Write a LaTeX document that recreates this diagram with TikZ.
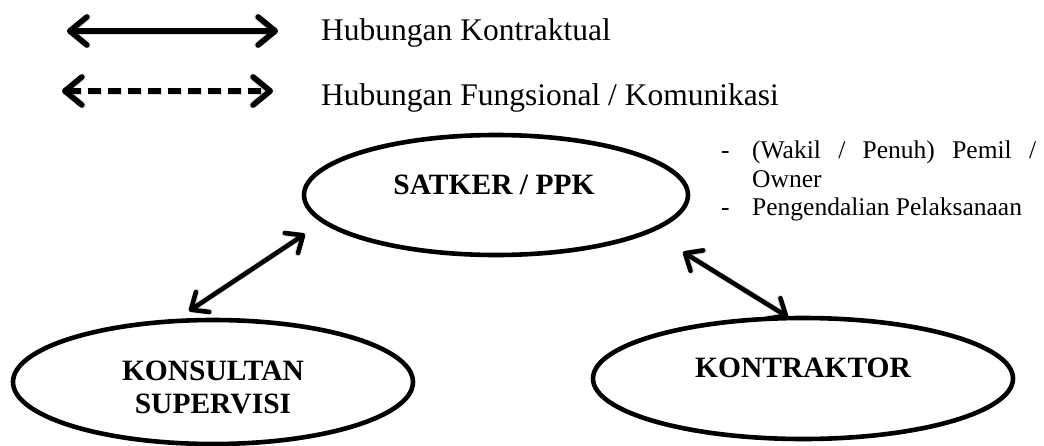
\documentclass[tikz,border=0pt]{standalone}
\usepackage{fontspec}
\setmainfont{Liberation Serif}
\usetikzlibrary{arrows.meta,shapes.geometric}
\begin{document}
\begin{tikzpicture}[x=1pt,y=-1pt,
  ell/.style={draw, ellipse, line width=4.6pt, inner sep=0pt},
  lbl/.style={font=\fontsize{29.5}{33}\selectfont\bfseries, inner sep=0pt, align=center},
  legtxt/.style={font=\fontsize{31.5}{36}\selectfont, inner sep=0pt, anchor=base west},
  note/.style={font=\fontsize{25.5}{29}\selectfont, inner sep=0pt, anchor=base west},
  conn/.style={line width=4.6pt, {Straight Barb[length=14pt,width=24pt,round]}-{Straight Barb[length=14pt,width=24pt,round]}},
  leg/.style={line width=5.6pt, {Straight Barb[length=17pt,width=28pt,round]}-{Straight Barb[length=17pt,width=28pt,round]}},
  shad/.style={draw=black, opacity=0.13, shift={(2pt,-3pt)}}]
\useasboundingbox (0,0) rectangle (1044,445);

% legend
\coordinate (l1a) at (67,31);
\coordinate (l1b) at (278,31);
\coordinate (l2a) at (62,91);
\coordinate (l2b) at (273,91);
\draw[leg, shad, line width=7pt] (l1a) -- (l1b);
\draw[leg, shad, line width=7pt, dash pattern=on 13pt off 7pt] (l2a) -- (l2b);
\draw[leg] (l1a) -- (l1b);
\draw[leg, dash pattern=on 13pt off 7pt] (l2a) -- (l2b);
\node[legtxt] (t1) at (321,40) {Hubungan Kontraktual};
\node[legtxt] (t2) at (321,105) {Hubungan Fungsional / Komunikasi};

% ellipses
\node[ell, minimum width=384pt, minimum height=120pt] (satker) at (496,195) {};
\node[lbl] (satkerT) at (494,185) {SATKER / PPK};
\node[ell, minimum width=400pt, minimum height=124pt] (kons) at (213,382) {};
\node[lbl] (konsT) at (213,387) {KONSULTAN\\SUPERVISI};
\node[ell, minimum width=420pt, minimum height=121pt] (kontr) at (803,378.5) {};
\node[lbl] (kontrT) at (803,368) {KONTRAKTOR};

% notes
\node[note] (d1) at (721,158) {-};
\node[note] (n1) at (752,158) {\makebox[284pt][s]{(Wakil / Penuh) Pemil /}};
\node[note] (n2) at (752,187) {Owner};
\node[note] (d2) at (721,215) {-};
\node[note] (n3) at (752,215) {Pengendalian Pelaksanaan};

% connectors
\coordinate (c1a) at (305,234);
\coordinate (c1b) at (189,311);
\coordinate (c2a) at (683,252);
\coordinate (c2b) at (788,317);
\draw[conn, shad, line width=6pt] (c1a) -- (c1b);
\draw[conn, shad, line width=6pt] (c2a) -- (c2b);
\draw[conn] (c1a) -- (c1b);
\draw[conn] (c2a) -- (c2b);
\end{tikzpicture}
\end{document}
